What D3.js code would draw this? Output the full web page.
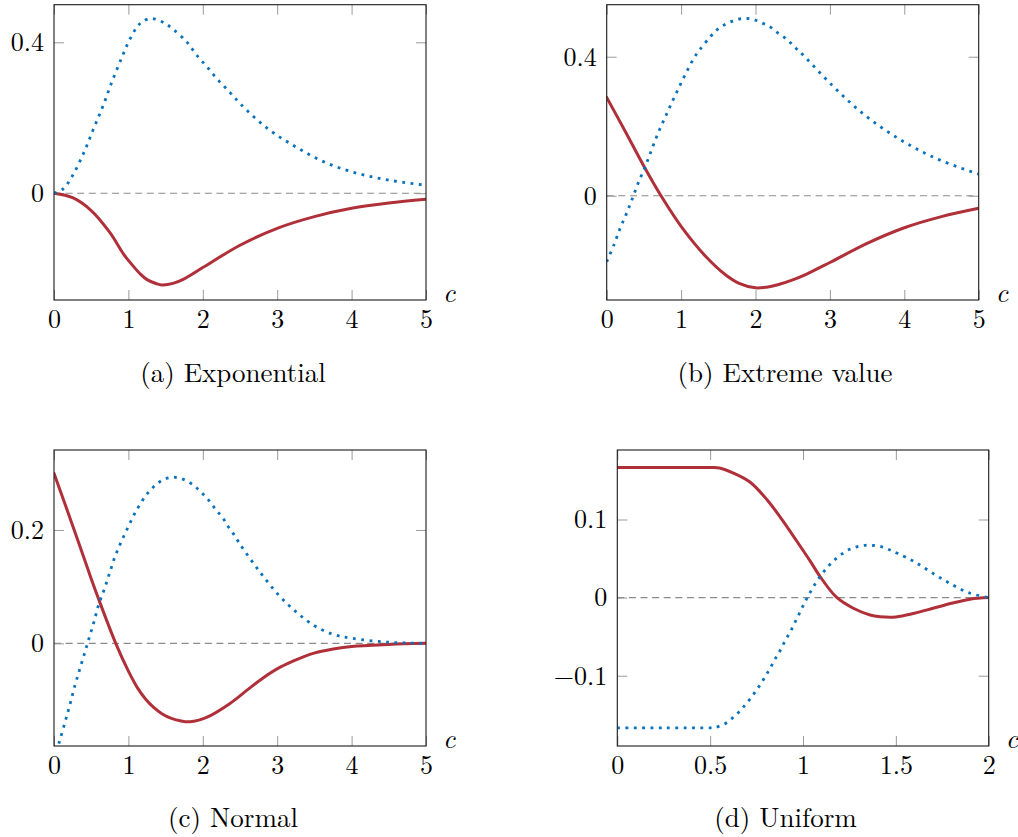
<!DOCTYPE html>
<html>
<head>
<meta charset="utf-8">
<script src="https://cdn.jsdelivr.net/npm/d3@7/dist/d3.min.js"></script>
<style>
  html, body { margin: 0; padding: 0; background: #fff; }
  svg { display: block; }
</style>
</head>
<body>
<svg id="chart" width="1018" height="837"></svg>
<script>
// ---------------- DATA ----------------
const panelNames = ["(a) Exponential", "(b) Extreme value", "(c) Normal", "(d) Uniform"];
const xLabel = "c";

// (a) Exponential
const expRedC  = [0, 0.25, 0.5, 0.75, 0.93, 1.0, 1.16, 1.25, 1.38, 1.45, 1.6, 1.75, 2.0, 2.5, 3.0, 3.5, 4.0, 4.5, 5.0];
const expRedV  = [0, -0.012, -0.046, -0.104, -0.160, -0.178, -0.214, -0.229, -0.240, -0.243, -0.239, -0.227, -0.197, -0.138, -0.093, -0.062, -0.040, -0.026, -0.016];
const expBlueC = [0, 0.12, 0.25, 0.40, 0.53, 0.66, 0.78, 0.91, 1.0, 1.11, 1.19, 1.30, 1.41, 1.51, 1.61, 1.78, 1.91, 2.06, 2.21, 2.37, 2.51, 2.86, 3.24, 3.64, 4.07, 4.52, 5.0];
const expBlueV = [0, 0.011, 0.047, 0.107, 0.170, 0.232, 0.296, 0.359, 0.400, 0.439, 0.455, 0.463, 0.458, 0.448, 0.433, 0.402, 0.368, 0.334, 0.299, 0.266, 0.236, 0.173, 0.124, 0.082, 0.053, 0.034, 0.021];

// (b) Extreme value
const evRedC  = [0, 0.25, 0.5, 0.73, 1.02, 1.335, 1.6, 1.78, 2.0, 2.15, 2.3, 2.5, 2.68, 3.0, 3.5, 4.0, 4.5, 5.0];
const evRedV  = [0.283, 0.185, 0.085, 0, -0.094, -0.1755, -0.228, -0.252, -0.265, -0.263, -0.256, -0.242, -0.226, -0.192, -0.137, -0.092, -0.060, -0.036];
const evBlueC = [0, 0.10, 0.18, 0.27, 0.35, 0.43, 0.52, 0.60, 0.69, 0.78, 0.87, 0.97, 1.07, 1.17, 1.25, 1.39, 1.47, 1.56, 1.66, 1.77, 1.89, 1.99, 2.10, 2.20, 2.29, 2.39, 2.47, 2.55, 2.63, 3.02, 3.44, 3.91, 4.42, 5.0];
const evBlueV = [-0.190, -0.140, -0.094, -0.049, -0.005, 0.040, 0.085, 0.130, 0.180, 0.223, 0.266, 0.311, 0.355, 0.395, 0.420, 0.457, 0.475, 0.489, 0.500, 0.508, 0.510, 0.506, 0.496, 0.485, 0.470, 0.455, 0.440, 0.423, 0.407, 0.320, 0.237, 0.166, 0.108, 0.062];

// (c) Normal
const nRedC  = [0, 0.25, 0.5, 0.62, 0.83, 1.0, 1.12, 1.23, 1.34, 1.45, 1.57, 1.694, 1.828, 2.05, 2.366, 2.59, 2.81, 3.04, 3.26, 3.485, 3.754, 4.0, 4.5, 5.0];
const nRedV  = [0.300, 0.208, 0.114, 0.071, 0, -0.049, -0.078, -0.098, -0.113, -0.124, -0.132, -0.1365, -0.1383, -0.1306, -0.106, -0.0830, -0.0610, -0.0420, -0.0285, -0.0176, -0.010, -0.0055, -0.002, 0];
const nBlueC = [0, 0.067, 0.16, 0.22, 0.28, 0.345, 0.41, 0.475, 0.54, 0.60, 0.68, 0.75, 0.82, 0.91, 1.01, 1.11, 1.23, 1.31, 1.39, 1.49, 1.60, 1.71, 1.82, 1.91, 1.99, 2.07, 2.14, 2.21, 2.28, 2.34, 2.41, 2.47, 2.53, 2.75, 3.0, 3.25, 3.5, 3.75, 4.0, 4.5, 5.0];
const nBlueV = [-0.205, -0.176, -0.1335, -0.105, -0.075, -0.046, -0.018, 0.011, 0.039, 0.068, 0.097, 0.125, 0.153, 0.181, 0.209, 0.235, 0.260, 0.272, 0.282, 0.290, 0.293, 0.2906, 0.284, 0.275, 0.265, 0.254, 0.242, 0.2306, 0.219, 0.206, 0.1935, 0.181, 0.169, 0.129, 0.088, 0.056, 0.031, 0.016, 0.009, 0.002, 0];

// (d) Uniform
const uRedC  = [0, 0.25, 0.5, 0.55, 0.625, 0.714, 0.804, 0.885, 0.966, 1.038, 1.092, 1.18, 1.271, 1.361, 1.415, 1.50, 1.60, 1.70, 1.80, 1.90, 2.0];
const uRedV  = [0.1665, 0.1665, 0.1665, 0.1660, 0.1595, 0.148, 0.126, 0.1005, 0.0725, 0.047, 0.027, 0.0005, -0.0136, -0.0222, -0.0244, -0.0247, -0.020, -0.0137, -0.0073, -0.002, 0];
const uBlueC = [0, 0.25, 0.5, 0.52, 0.557, 0.596, 0.63, 0.664, 0.693, 0.723, 0.749, 0.774, 0.799, 0.822, 0.844, 0.867, 0.889, 0.91, 0.932, 0.953, 0.973, 0.993, 1.014, 1.036, 1.059, 1.084, 1.111, 1.14, 1.172, 1.208, 1.248, 1.289, 1.336, 1.381, 1.425, 1.468, 1.511, 1.6, 1.7, 1.8, 1.9, 2.0];
const uBlueV = [-0.1667, -0.1667, -0.1667, -0.1665, -0.164, -0.159, -0.152, -0.1444, -0.136, -0.1274, -0.1184, -0.110, -0.100, -0.091, -0.081, -0.072, -0.062, -0.0526, -0.0436, -0.0333, -0.024, -0.014, -0.004, 0.0056, 0.015, 0.0244, 0.033, 0.041, 0.0487, 0.0556, 0.0615, 0.065, 0.067, 0.0667, 0.065, 0.061, 0.0564, 0.046, 0.031, 0.017, 0.0056, 0];

// tick values
const xTicks5 = [0, 1, 2, 3, 4, 5];
const xTicks2 = [0, 0.5, 1, 1.5, 2];
const yTicksA = [0, 0.4];
const yTicksB = [0, 0.4];
const yTicksC = [0, 0.2];
const yTicksD = [-0.1, 0, 0.1];

// axis ranges
const xDomA = [0, 5], xDomB = [0, 5], xDomC = [0, 5], xDomD = [0, 2];
const yDomA = [-0.283, 0.4996];
const yDomB = [-0.300, 0.5497];
const yDomC = [-0.181, 0.341];
const yDomD = [-0.190, 0.189];

// ---------------- FONT PICK (first installed serif face) ----------------
function pickFont(cands, fallback) {
  const ctx = document.createElement("canvas").getContext("2d");
  const sample = "Exponential Extreme value 0123456789 (abc)";
  const widthOf = f => { ctx.font = "40px " + f; return ctx.measureText(sample).width; };
  const baseM = widthOf("monospace"), baseS = widthOf("sans-serif");
  for (const c of cands) {
    const wm = widthOf(`'${c}', monospace`), ws = widthOf(`'${c}', sans-serif`);
    if (wm !== baseM && ws !== baseS) return `'${c}'`;
    if (wm !== baseM && ws === wm) return `'${c}'`;
  }
  return fallback;
}
const FONT = pickFont(["Latin Modern Roman", "CMU Serif", "Liberation Serif", "DejaVu Serif", "Noto Serif",
  "Tinos", "Times New Roman", "Times", "Nimbus Roman", "Nimbus Roman No9 L", "FreeSerif", "STIX Two Text",
  "Source Serif Pro", "Georgia", "Bitstream Vera Serif", "Roboto Slab", "Noto Serif CJK SC"], "serif");

// ---------------- LAYOUT ----------------
const zip = (cs, vs) => cs.map((c, i) => ({c, v: vs[i]}));

const panels = [
  { name: panelNames[0], box: {l: 54,    r: 426,   t: 4.7, b: 300}, xd: xDomA, yd: yDomA, xt: xTicks5, yt: yTicksA,
    red: zip(expRedC, expRedV), blue: zip(expBlueC, expBlueV), cap: {x: 233, y: 382} },
  { name: panelNames[1], box: {l: 606.7, r: 978.7, t: 4.7, b: 300}, xd: xDomB, yd: yDomB, xt: xTicks5, yt: yTicksB,
    red: zip(evRedC, evRedV), blue: zip(evBlueC, evBlueV), cap: {x: 785, y: 382} },
  { name: panelNames[2], box: {l: 54,    r: 426,   t: 450, b: 746}, xd: xDomC, yd: yDomC, xt: xTicks5, yt: yTicksC,
    red: zip(nRedC, nRedV), blue: zip(nBlueC, nBlueV), cap: {x: 233, y: 827} },
  { name: panelNames[3], box: {l: 617.3, r: 988.7, t: 450, b: 746}, xd: xDomD, yd: yDomD, xt: xTicks2, yt: yTicksD,
    red: zip(uRedC, uRedV), blue: zip(uBlueC, uBlueV), cap: {x: 785.5, y: 827} }
];

const RED = "#b0303a";
const BLUE = "#0a72bd";
const TICK = "#9a9a9a";
const FS = 26;
const fmt = d => d === 0 ? "0" : d3.format("")(d);

const svg = d3.select("#chart");
svg.append("rect").attr("width", 1018).attr("height", 837).attr("fill", "#fff");

panels.forEach((p, i) => {
  const {l, r, t, b} = p.box;
  const x = d3.scaleLinear().domain(p.xd).range([l, r]);
  const y = d3.scaleLinear().domain(p.yd).range([b, t]);
  const g = svg.append("g");

  const clipId = "clip" + i;
  svg.append("clipPath").attr("id", clipId)
    .append("rect").attr("x", l).attr("y", t).attr("width", r - l).attr("height", b - t);

  // zero reference line
  g.append("line")
    .attr("x1", x(p.xd[0])).attr("x2", x(p.xd[1]))
    .attr("y1", y(0)).attr("y2", y(0))
    .attr("stroke", "#8c8c8c").attr("stroke-width", 1.1)
    .attr("stroke-dasharray", "7 4.6");

  // axes (inward ticks on all four sides)
  const styleAxis = (sel, labels) => {
    sel.attr("font-family", FONT).attr("font-size", FS);
    sel.select(".domain").remove();
    sel.selectAll(".tick line").attr("stroke", TICK).attr("stroke-width", 1);
    sel.selectAll(".tick text").attr("fill", "#000");
    if (!labels) sel.selectAll(".tick text").remove();
  };
  g.append("g").attr("transform", `translate(0,${b})`)
    .call(d3.axisBottom(x).tickValues(p.xt).tickFormat(fmt).tickSize(-10).tickPadding(10))
    .call(s => styleAxis(s, true));
  g.append("g").attr("transform", `translate(0,${t})`)
    .call(d3.axisTop(x).tickValues(p.xt).tickSize(-10))
    .call(s => styleAxis(s, false));
  g.append("g").attr("transform", `translate(${l},0)`)
    .call(d3.axisLeft(y).tickValues(p.yt).tickFormat(fmt).tickSize(-10).tickPadding(10))
    .call(s => styleAxis(s, true));
  g.append("g").attr("transform", `translate(${r},0)`)
    .call(d3.axisRight(y).tickValues(p.yt).tickSize(-10))
    .call(s => styleAxis(s, false));

  const line = d3.line().x(d => x(d.c)).y(d => y(d.v)).curve(d3.curveCatmullRom.alpha(0.5));

  const plot = g.append("g").attr("clip-path", `url(#${clipId})`);
  plot.append("path").datum(p.red)
    .attr("d", line).attr("fill", "none")
    .attr("stroke", RED).attr("stroke-width", 3).attr("stroke-linejoin", "round").attr("stroke-linecap", "round");
  plot.append("path").datum(p.blue)
    .attr("d", line).attr("fill", "none")
    .attr("stroke", BLUE).attr("stroke-width", 2.8)
    .attr("stroke-dasharray", "2.8 5.5").attr("stroke-linecap", "butt");

  // frame
  g.append("rect").attr("x", l).attr("y", t).attr("width", r - l).attr("height", b - t)
    .attr("fill", "none").attr("stroke", "#1a1a1a").attr("stroke-width", 1.1);

  // x label
  g.append("text").attr("x", r + 17).attr("y", b + 2)
    .attr("font-family", FONT).attr("font-size", 27).attr("font-style", "italic").attr("fill", "#000").text(xLabel);

  // caption
  g.append("text").attr("x", p.cap.x).attr("y", p.cap.y)
    .attr("font-family", FONT).attr("text-anchor", "middle").attr("font-size", 27).attr("fill", "#000")
    .text(p.name);
});
</script>
</body>
</html>
